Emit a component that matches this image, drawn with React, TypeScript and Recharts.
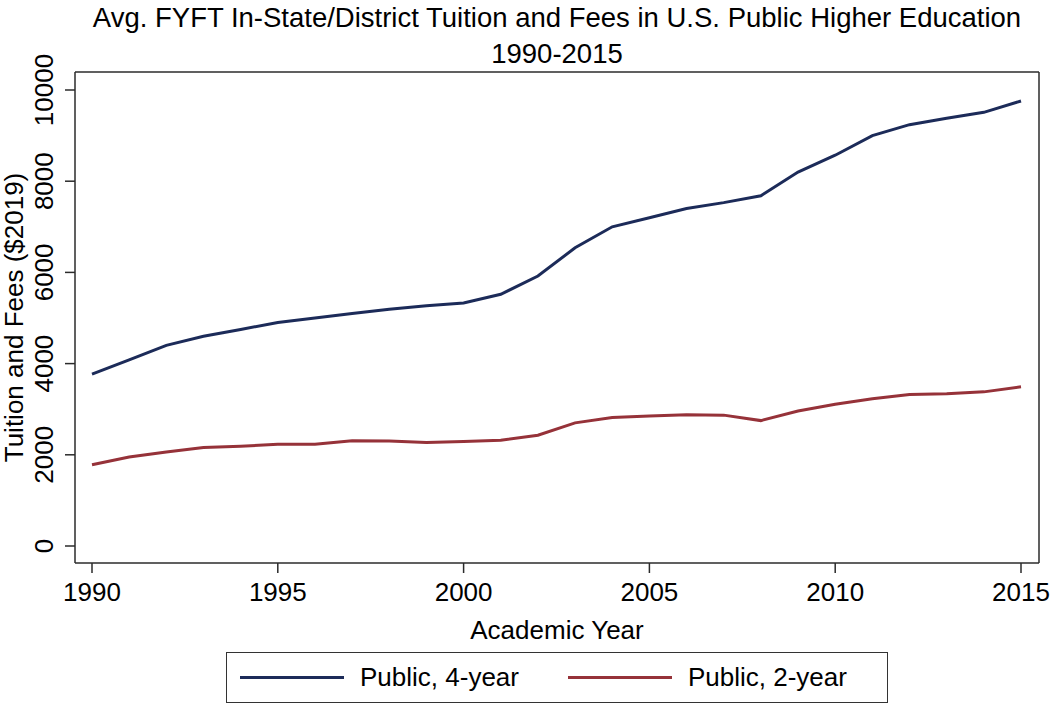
import { LineChart, Line, XAxis, YAxis, Legend } from "recharts";

const YEARS = [
  1990, 1991, 1992, 1993, 1994, 1995, 1996, 1997, 1998, 1999, 2000, 2001, 2002,
  2003, 2004, 2005, 2006, 2007, 2008, 2009, 2010, 2011, 2012, 2013, 2014, 2015,
];
const PUBLIC_4YR = [
  3770, 4080, 4400, 4600, 4750, 4900, 5000, 5100, 5190, 5270, 5330, 5520, 5920,
  6540, 7000, 7200, 7400, 7530, 7680, 8200, 8570, 9000, 9240, 9380, 9510, 9760,
];
const PUBLIC_2YR = [
  1780, 1950, 2060, 2160, 2190, 2230, 2230, 2310, 2300, 2270, 2290, 2320, 2430,
  2700, 2820, 2850, 2880, 2870, 2750, 2960, 3110, 3230, 3320, 3340, 3380, 3490,
];
const X_TICKS = [1990, 1995, 2000, 2005, 2010, 2015];
const Y_TICKS = [0, 2000, 4000, 6000, 8000, 10000];

const SERIES = [
  { key: "four", name: "Public, 4-year", color: "#1c2b59" },
  { key: "two", name: "Public, 2-year", color: "#963239" },
];

const FONT = '"Liberation Sans", Arial, Helvetica, sans-serif';
const AXIS = "#2b2b2b";

const data = YEARS.map((year, i) => ({
  year,
  four: PUBLIC_4YR[i],
  two: PUBLIC_2YR[i],
}));

const YTick = ({ x, y, payload }: any) => (
  <text
    x={x - 10}
    y={y}
    transform={`rotate(-90, ${x - 10}, ${y})`}
    textAnchor="middle"
    fontSize={26}
    fontFamily={FONT}
    fill="#000"
  >
    {payload.value}
  </text>
);

const LegendBox = () => (
  <div
    style={{
      boxSizing: "border-box",
      width: 662,
      height: 51,
      border: "1.5px solid #333",
      display: "flex",
      alignItems: "center",
      fontFamily: FONT,
      fontSize: 26,
      color: "#000",
      paddingLeft: 13,
    }}
  >
    {SERIES.map((s, i) => (
      <span key={s.key} style={{ display: "flex", alignItems: "center", marginRight: i === 0 ? 49 : 0 }}>
        <span style={{ width: 104, height: 3, background: s.color, display: "inline-block", marginRight: 16 }} />
        {s.name}
      </span>
    ))}
  </div>
);

export default function App() {
  return (
    <div style={{ position: "absolute", left: 0, top: 0, width: 1051, height: 706, background: "#fff" }}>
      <div
        style={{
          position: "absolute",
          left: 75,
          top: 0,
          width: 964,
          textAlign: "center",
          fontFamily: FONT,
          fontSize: 27.5,
          lineHeight: "36px",
          color: "#000",
          whiteSpace: "nowrap",
        }}
      >
        <div>Avg. FYFT In-State/District Tuition and Fees in U.S. Public Higher Education</div>
        <div>1990-2015</div>
      </div>
      <LineChart
        width={1051}
        height={706}
        data={data}
        margin={{ top: 71, right: 11, bottom: 0, left: 0 }}
        style={{ position: "absolute", left: 0, top: 0 }}
      >
        <XAxis
          dataKey="year"
          type="number"
          domain={[1990, 2015]}
          ticks={X_TICKS}
          padding={{ left: 17, right: 18 }}
          height={143}
          tickSize={10}
          tickMargin={10}
          stroke={AXIS}
          strokeWidth={1.5}
          tick={{ fill: "#000", fontSize: 26, fontFamily: FONT }}
          label={({ viewBox }: any) => (
            <text
              x={viewBox.x + viewBox.width / 2}
              y={639}
              textAnchor="middle"
              fontSize={26}
              fontFamily={FONT}
              fill="#000"
            >
              Academic Year
            </text>
          )}
        />
        <XAxis xAxisId="top" orientation="top" height={1} tick={false} tickLine={false} stroke={AXIS} strokeWidth={1.5} />
        <YAxis
          type="number"
          domain={[0, 10000]}
          ticks={Y_TICKS}
          padding={{ top: 18, bottom: 17 }}
          width={75}
          tickSize={10}
          tickMargin={2}
          stroke={AXIS}
          strokeWidth={1.5}
          tick={<YTick />}
          label={({ viewBox }: any) => {
            const cy = viewBox.y + viewBox.height / 2;
            return (
              <text
                x={23}
                y={cy}
                transform={`rotate(-90, 23, ${cy})`}
                textAnchor="middle"
                fontSize={26}
                fontFamily={FONT}
                fill="#000"
              >
                Tuition and Fees ($2019)
              </text>
            );
          }}
        />
        <YAxis yAxisId="right" orientation="right" width={1} tick={false} tickLine={false} stroke={AXIS} strokeWidth={1.5} />
        {SERIES.map((s) => (
          <Line
            key={s.key}
            dataKey={s.key}
            name={s.name}
            stroke={s.color}
            strokeWidth={3}
            dot={false}
            isAnimationActive={false}
          />
        ))}
        <Legend
          layout="horizontal"
          verticalAlign="middle"
          align="center"
          content={<LegendBox />}
          wrapperStyle={{ left: 226, top: 652, width: 662, height: 51 }}
        />
      </LineChart>
    </div>
  );
}
